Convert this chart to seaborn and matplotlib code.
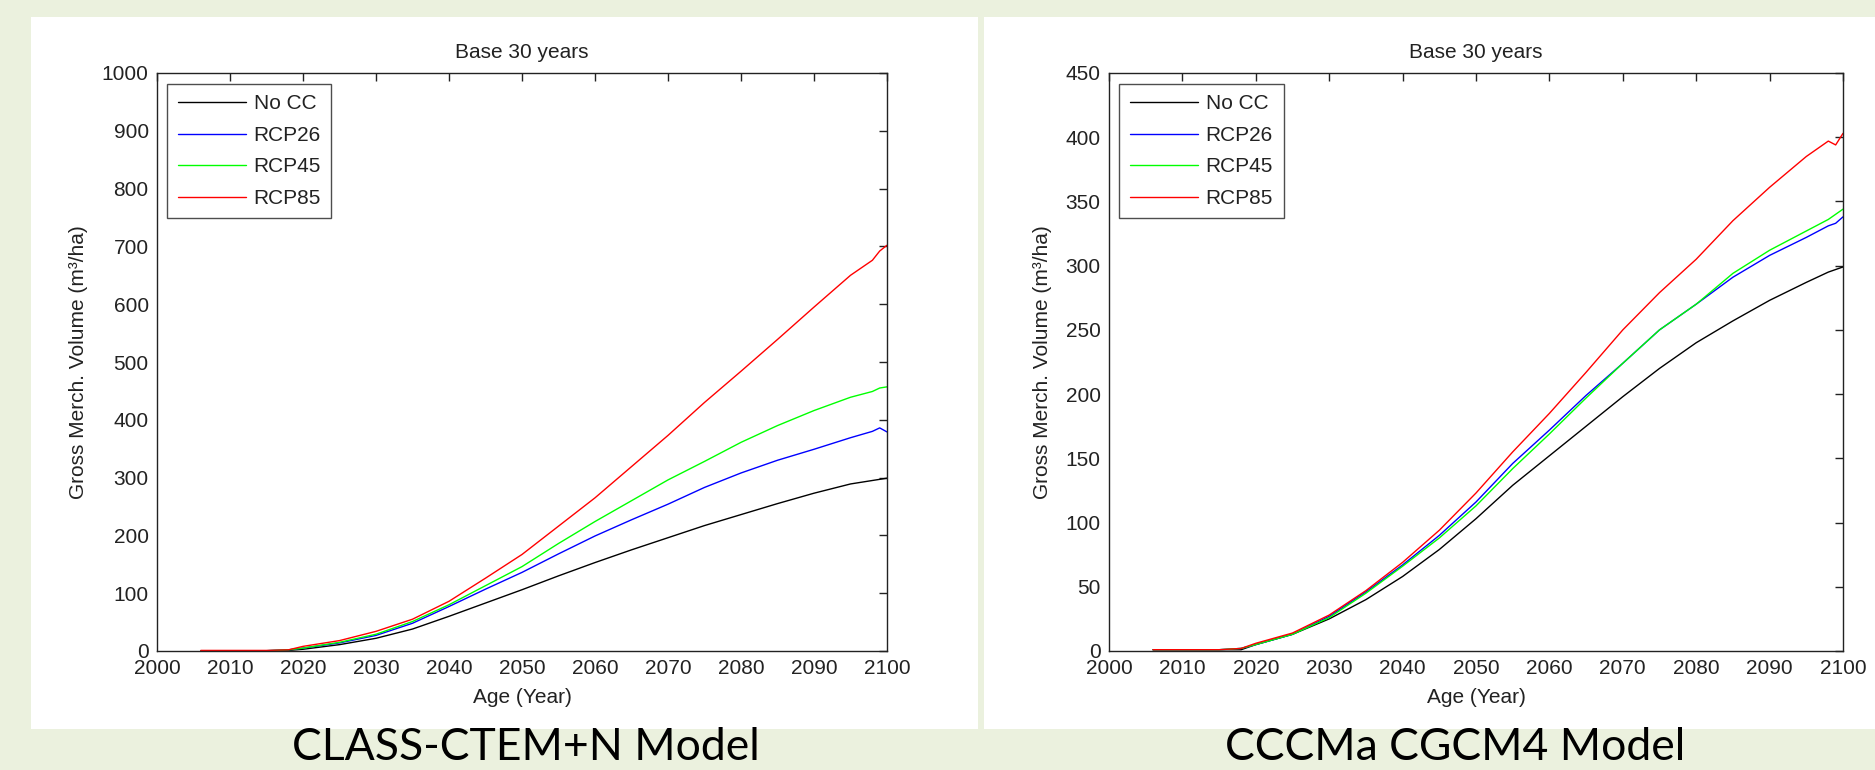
import numpy as np
import pandas as pd
import matplotlib
matplotlib.use("Agg")
import matplotlib.pyplot as plt
import seaborn as sns
from matplotlib.patches import Rectangle

# values
years = [2006, 2010, 2015, 2018, 2020, 2025, 2030, 2035, 2040, 2045, 2050, 2055,
         2060, 2065, 2070, 2075, 2080, 2085, 2090, 2095, 2098, 2099, 2100]
scenarios = ["No CC", "RCP26", "RCP45", "RCP85"]
colors = {"No CC": "#000000", "RCP26": "#0000FF", "RCP45": "#00FF00", "RCP85": "#FF0000"}

# CLASS-CTEM+N
noCC_L = [0.5, 0.5, 0.5, 1, 3, 11, 22, 38, 60, 83, 106, 130, 153, 175, 196, 217, 236, 255, 273, 289, 295, 297, 299]
rcp26_L = [0.5, 0.5, 0.5, 2, 5, 14, 27, 48, 77, 107, 136, 168, 199, 227, 254, 283, 308, 330, 349, 369, 380, 386, 379]
rcp45_L = [0.5, 0.5, 0.5, 2, 5, 15, 29, 51, 80, 113, 146, 186, 224, 260, 296, 328, 361, 390, 416, 439, 449, 455, 457]
rcp85_L = [1, 1, 1, 2, 8, 18, 34, 55, 86, 126, 167, 216, 265, 319, 373, 430, 484, 539, 595, 650, 676, 692, 702]

# CCCMa CGCM4
noCC_R = [1, 1, 1, 1, 5, 13, 25, 40, 58, 79, 103, 129, 152, 175, 198, 220, 240, 257, 273, 287, 295, 297, 299]
rcp26_R = [1, 1, 1, 2, 5, 13, 27, 46, 67, 90, 116, 146, 172, 199, 224, 250, 270, 291, 308, 322, 331, 333, 338]
rcp45_R = [1, 1, 1, 2, 5, 13, 26, 45, 66, 88, 113, 142, 169, 197, 224, 250, 270, 294, 312, 327, 336, 340, 344]
rcp85_R = [1, 1, 1, 2, 6, 14, 28, 47, 69, 94, 123, 155, 185, 217, 250, 279, 305, 335, 361, 385, 397, 394, 403]

captions = ["CLASS-CTEM+N Model", "CCCMa CGCM4 Model"]


def long_table(series):
    rows = []
    for name, vals in zip(scenarios, series):
        for yr, v in zip(years, vals):
            rows.append({"year": yr, "vol": v, "scenario": name})
    return pd.DataFrame(rows)


df_left = long_table([noCC_L, rcp26_L, rcp45_L, rcp85_L])
df_right = long_table([noCC_R, rcp26_R, rcp45_R, rcp85_R])

sns.set_style("white")
plt.rcParams["font.family"] = ["Liberation Sans", "DejaVu Sans"]
ink = "#222222"
fs = 15

fig = plt.figure(figsize=(18.75, 7.7), dpi=100)
fig.patch.set_facecolor("#EBF1DE")

W, H = 1875.0, 770.0
# white slide panels, kept behind the axes
for x0, x1 in [(31, 978), (984, 1875)]:
    fig.patches.append(Rectangle((x0 / W, 1 - 729 / H), (x1 - x0) / W, (729 - 17) / H,
                                 transform=fig.transFigure, facecolor="white",
                                 edgecolor="none", zorder=-10))

panels = [
    (df_left, [157, 887], 1000, 100, 526),
    (df_right, [1109, 1843], 450, 50, 1455),
]

for i, (df, (px0, px1), ymax, ystep, cap_x) in enumerate(panels):
    ax = fig.add_axes([px0 / W, 1 - 651 / H, (px1 - px0) / W, (651 - 73) / H])
    ax.set_zorder(1)
    sns.lineplot(data=df, x="year", y="vol", hue="scenario", palette=colors,
                 hue_order=scenarios, linewidth=1.0, ax=ax)
    ax.set_xlim(2000, 2100)
    ax.set_ylim(0, ymax)
    ax.set_xticks(np.arange(2000, 2101, 10))
    ax.set_yticks(np.arange(0, ymax + 1, ystep))
    ax.tick_params(direction="in", top=True, right=True, length=6, width=1,
                   labelsize=fs, colors=ink, pad=6)
    for sp in ax.spines.values():
        sp.set_color(ink)
        sp.set_linewidth(1.0)
    ax.set_title("Base 30 years", fontsize=fs, color=ink, pad=11)
    ax.set_xlabel("Age (Year)", fontsize=fs, color=ink, labelpad=7)
    ax.set_ylabel("Gross Merch. Volume (m³/ha)", fontsize=fs, color=ink, labelpad=10)
    ax.set_facecolor("white")
    handles, labels = ax.get_legend_handles_labels()
    leg = ax.legend(handles, labels, loc="upper left", bbox_to_anchor=(0.014, 0.981),
                    borderaxespad=0, fontsize=fs, frameon=True, fancybox=False,
                    handlelength=3.3, handletextpad=0.35, labelspacing=0.6,
                    borderpad=0.5)
    leg.get_frame().set_edgecolor(ink)
    leg.get_frame().set_linewidth(1.0)
    for t in leg.get_texts():
        t.set_color(ink)

    fig.text(cap_x / W, 1 - 760 / H, captions[i], ha="center", va="baseline",
             fontsize=32, family=["Lato", "DejaVu Sans"], color="black")

fig.savefig("out.png", dpi=100, facecolor=fig.get_facecolor())
